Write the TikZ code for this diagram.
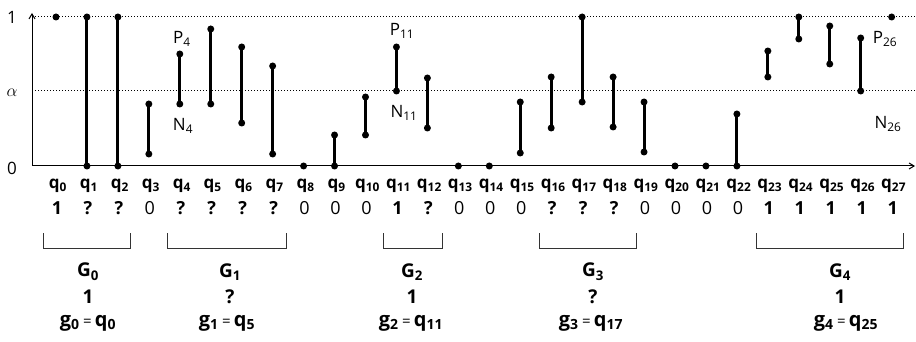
\documentclass[tikz,border=0pt]{standalone}
\usepackage{fontspec}
\setmainfont{Open Sans}
\usetikzlibrary{arrows.meta}
\begin{document}
\begin{tikzpicture}[x=1pt,y=-1pt,
  dot/.style={circle,fill=black,inner sep=0pt,minimum size=7pt},
  stem/.style={line width=3pt},
  guide/.style={dotted,line width=1pt},
  axisline/.style={line width=1pt},
  bracketline/.style={line width=0.9pt,black!80},
  qlab/.style={font=\fontsize{17}{19}\selectfont\bfseries,inner sep=0pt},
  vlab/.style={font=\fontsize{18}{20}\selectfont\bfseries,inner sep=0pt},
  zlab/.style={font=\fontsize{18}{20}\selectfont,inner sep=0pt},
  glab/.style={font=\fontsize{19}{21}\selectfont\bfseries,inner sep=0pt},
  elab/.style={font=\fontsize{20}{22}\selectfont\bfseries,inner sep=0pt},
  plab/.style={font=\fontsize{17}{19}\selectfont,inner sep=0pt},
  alab/.style={font=\fontsize{17}{19}\selectfont,inner sep=0pt}]
\useasboundingbox (0,0) rectangle (916,342);
% guides
\coordinate (g1a) at (35,17); \coordinate (g1b) at (916,17);
\coordinate (gaa) at (35,91); \coordinate (gab) at (916,91);
\draw[guide] (g1a) -- (g1b);
\draw[guide] (gaa) -- (gab);
% axes
\coordinate (O) at (32,166);
\coordinate (ytop) at (32,13);
\coordinate (xend) at (915,166);
\draw[axisline,-{Straight Barb[length=5pt,width=6pt]}] (O) -- (ytop);
\draw[axisline,-{Straight Barb[length=5pt,width=6pt]}] (O) -- (xend);
\node[alab] (one) at (12,17) {1};
\node[alab] (alpha) at (12,93) {$\alpha$};
\node[alab] (zero) at (12,168) {0};
% stems
\foreach \i/\t/\b in {1/17/166,2/17/166,3/104/154,4/54/104,5/29/104,6/47/123,7/66/154,
  9/135/166,10/97/135,11/47/91,12/78/128,15/102/153,16/77/128,17/17/102,18/77/127,
  19/102/152,22/114/166,23/51/77,24/17/39,25/26/64,26/38/91}{
  \pgfmathsetmacro\xx{56+30.95*\i}
  \node[dot] (t\i) at (\xx,\t) {};
  \node[dot] (b\i) at (\xx,\b) {};
  \draw[stem] (t\i.center) -- (b\i.center);
}
\foreach \i/\t in {0/17,8/166,13/166,14/166,20/166,21/166,27/17}{
  \pgfmathsetmacro\xx{56+30.95*\i}
  \node[dot] (d\i) at (\xx,\t) {};
}
% P/N labels
\node[plab] (P4) at (182,39) {P\textsubscript{4}};
\node[plab] (N4) at (183,126) {N\textsubscript{4}};
\node[plab] (P11) at (402,31) {P\textsubscript{11}};
\node[plab] (N11) at (404,113) {N\textsubscript{11}};
\node[plab] (P26) at (885,39) {P\textsubscript{26}};
\node[plab] (N26) at (888,124) {N\textsubscript{26}};
% q labels
\foreach \i in {0,...,27}{
  \pgfmathsetmacro\xx{58+30.95*\i}
  \node[qlab] (q\i) at (\xx,186) {q\textsubscript{\i}};
}
% values
\foreach \i in {0,11,23,24,25,26,27}{
  \pgfmathsetmacro\xx{57+30.95*\i}
  \node[vlab] (v\i) at (\xx,208) {1};
}
\foreach \i in {1,2,4,5,6,7,12,16,17,18}{
  \pgfmathsetmacro\xx{57+30.95*\i}
  \node[vlab] (v\i) at (\xx,208) {?};
}
\foreach \i in {3,8,9,10,13,14,15,19,20,21,22}{
  \pgfmathsetmacro\xx{57+30.95*\i}
  \node[zlab] (v\i) at (\xx,208) {0};
}
% brackets
\foreach \a/\b in {43/130,167/286,383/442,539/636,756/903}{
  \draw[bracketline] (\a,233) -- (\a,248) -- (\b,248) -- (\b,233);
}
% groups
\foreach \x/\k/\v/\e/\ex in {88/0/1/0/88,230/1/?/5/227,412/2/1/11/411,593/3/?/17/591,840/4/1/25/846}{
  \node[glab] (G\k) at (\x,272) {G\textsubscript{\k}};
  \node[glab] (Gv\k) at (\x,297) {\v};
  \node[elab] (ge\k) at (\ex,323) {g\textsubscript{\k}\,{\mdseries\fontsize{15}{17}\selectfont=}\,q\textsubscript{\e}};
}
\end{tikzpicture}
\end{document}
